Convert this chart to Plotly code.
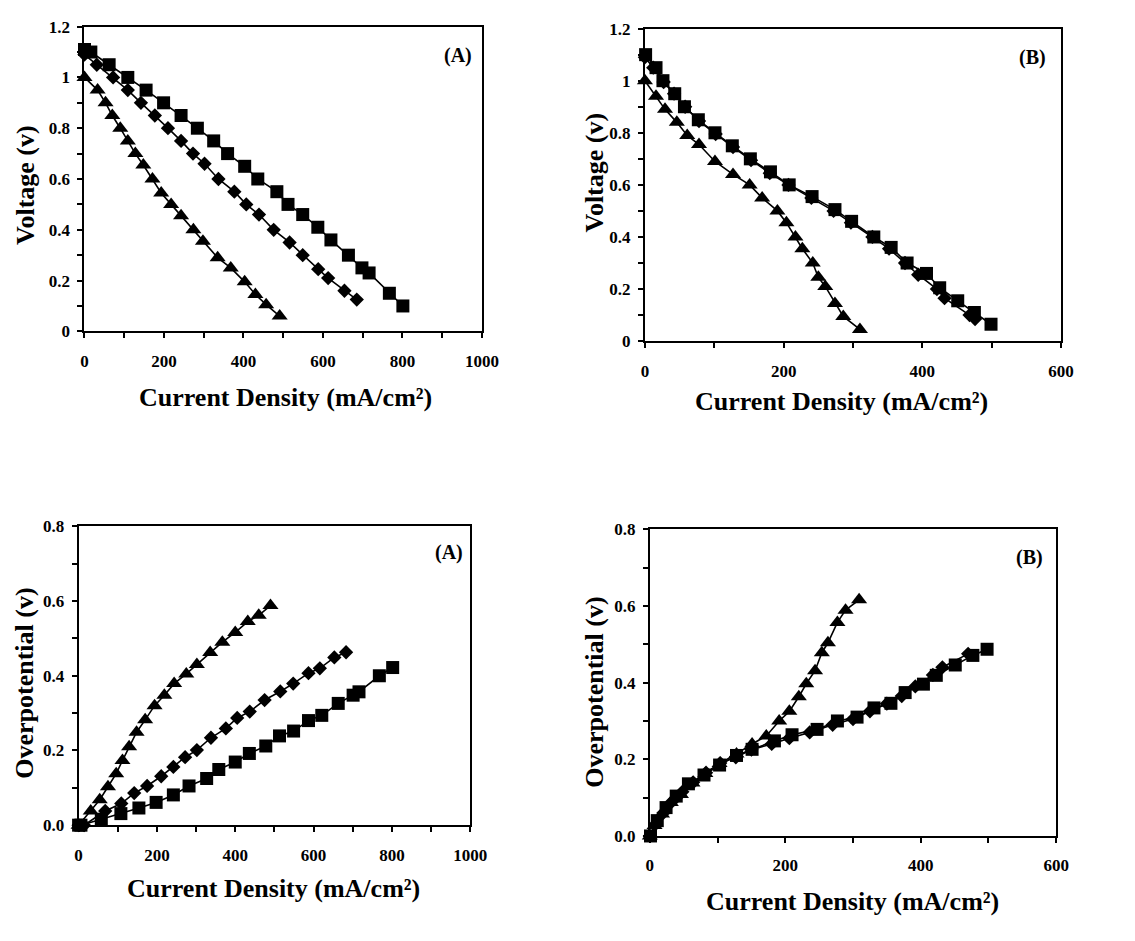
import plotly.graph_objects as go

W, H = 1135, 941

# ---------- Panel 1: Voltage (A) ----------
vA_sq_x = [0, 16, 62, 109, 155, 199, 243, 284, 325, 360, 403, 436, 484, 512, 549, 587, 620, 664, 698, 716, 767, 801]
vA_sq_y = [1.11, 1.10, 1.05, 1.00, 0.95, 0.90, 0.85, 0.80, 0.75, 0.70, 0.65, 0.60, 0.55, 0.50, 0.46, 0.41, 0.36, 0.30, 0.25, 0.23, 0.15, 0.10]
vA_di_x = [0, 31, 72, 109, 142, 177, 210, 243, 273, 302, 337, 377, 407, 439, 476, 516, 549, 588, 613, 654, 685]
vA_di_y = [1.09, 1.05, 1.00, 0.95, 0.90, 0.85, 0.80, 0.75, 0.70, 0.66, 0.60, 0.55, 0.50, 0.46, 0.40, 0.35, 0.30, 0.245, 0.21, 0.16, 0.125]
vA_tr_x = [0, 33, 53, 70, 90, 109, 128, 148, 171, 193, 218, 243, 274, 298, 335, 368, 403, 430, 457, 491]
vA_tr_y = [1.00, 0.95, 0.90, 0.85, 0.80, 0.75, 0.70, 0.655, 0.60, 0.545, 0.50, 0.455, 0.40, 0.355, 0.29, 0.25, 0.195, 0.145, 0.105, 0.06]

# ---------- Panel 2: Voltage (B) ----------
vB_sq_x = [1, 16, 26, 43, 57, 77, 101, 126, 152, 181, 208, 241, 274, 298, 330, 355, 378, 406, 425, 451, 475, 499]
vB_sq_y = [1.10, 1.05, 1.00, 0.95, 0.90, 0.85, 0.80, 0.75, 0.70, 0.65, 0.60, 0.555, 0.505, 0.46, 0.40, 0.36, 0.30, 0.26, 0.205, 0.155, 0.11, 0.065]
vB_di_x = [0, 12, 27, 42, 58, 78, 102, 127, 153, 180, 207, 240, 272, 297, 328, 352, 375, 394, 421, 432, 468, 476]
vB_di_y = [1.09, 1.05, 0.995, 0.95, 0.90, 0.845, 0.795, 0.745, 0.695, 0.645, 0.60, 0.55, 0.50, 0.455, 0.40, 0.355, 0.30, 0.255, 0.20, 0.165, 0.10, 0.085]
vB_tr_x = [0, 16, 29, 46, 61, 78, 101, 127, 151, 169, 191, 204, 217, 227, 242, 250, 260, 274, 286, 310]
vB_tr_y = [1.00, 0.94, 0.89, 0.84, 0.79, 0.755, 0.69, 0.64, 0.60, 0.55, 0.50, 0.455, 0.40, 0.355, 0.30, 0.245, 0.21, 0.145, 0.095, 0.045]

# ---------- Panel 3: Overpotential (A) ----------
oA_sq_x = [0, 6, 58, 108, 154, 198, 242, 282, 327, 358, 400, 436, 478, 513, 549, 587, 621, 663, 701, 716, 768, 802]
oA_sq_y = [0.0, 0.0, 0.016, 0.031, 0.046, 0.061, 0.081, 0.105, 0.125, 0.149, 0.169, 0.192, 0.212, 0.239, 0.252, 0.280, 0.294, 0.326, 0.348, 0.357, 0.400, 0.422]
oA_di_x = [0, 14, 68, 109, 142, 175, 211, 242, 272, 302, 338, 376, 405, 437, 475, 515, 548, 587, 616, 653, 683]
oA_di_y = [0.0, 0.0, 0.038, 0.058, 0.086, 0.105, 0.131, 0.156, 0.182, 0.201, 0.234, 0.259, 0.287, 0.304, 0.335, 0.358, 0.379, 0.407, 0.420, 0.449, 0.463]
oA_tr_x = [0, 31, 54, 75, 96, 112, 129, 148, 170, 194, 219, 244, 275, 302, 336, 367, 400, 432, 460, 490]
oA_tr_y = [0.0, 0.038, 0.068, 0.103, 0.138, 0.173, 0.210, 0.249, 0.282, 0.320, 0.348, 0.379, 0.405, 0.430, 0.462, 0.490, 0.516, 0.545, 0.562, 0.588]

# ---------- Panel 4: Overpotential (B) ----------
oB_sq_x = [1, 11, 24, 39, 57, 80, 103, 128, 151, 184, 210, 247, 277, 306, 331, 356, 377, 404, 423, 451, 477, 498]
oB_sq_y = [0.0, 0.040, 0.074, 0.104, 0.136, 0.159, 0.185, 0.210, 0.226, 0.248, 0.264, 0.278, 0.300, 0.310, 0.334, 0.346, 0.374, 0.396, 0.419, 0.446, 0.471, 0.487]
oB_di_x = [0, 8, 20, 33, 48, 64, 83, 104, 127, 150, 180, 206, 236, 270, 300, 325, 350, 372, 392, 418, 432, 470]
oB_di_y = [0.0, 0.030, 0.060, 0.090, 0.115, 0.140, 0.165, 0.190, 0.205, 0.225, 0.240, 0.255, 0.270, 0.290, 0.305, 0.325, 0.345, 0.365, 0.390, 0.420, 0.440, 0.475]
oB_tr_x = [0, 7, 18, 31, 46, 63, 82, 103, 128, 151, 172, 191, 206, 220, 231, 244, 254, 263, 277, 289, 309]
oB_tr_y = [0.0, 0.027, 0.057, 0.087, 0.108, 0.138, 0.163, 0.189, 0.214, 0.240, 0.261, 0.300, 0.325, 0.363, 0.397, 0.431, 0.478, 0.504, 0.557, 0.589, 0.616]

volt_tickvals = [0, 0.2, 0.4, 0.6, 0.8, 1.0, 1.2]
volt_ticktext = ["0", "0.2", "0.4", "0.6", "0.8", "1", "1.2"]
over_tickvals = [0.0, 0.2, 0.4, 0.6, 0.8]
over_ticktext = ["0.0", "0.2", "0.4", "0.6", "0.8"]
xA_tickvals = [0, 200, 400, 600, 800, 1000]
xB_tickvals = [0, 200, 400, 600]

x_title = "Current Density (mA/cm²)"
FONT = "Liberation Serif, Times New Roman, serif"

# pixel boxes: (left, right, top, bottom)
boxes = {
    1: (82, 487, 18, 329),
    2: (653, 1077, 20, 339),
    3: (76, 475, 528, 833),
    4: (658, 1072, 531, 844),
}

fig = go.Figure()

def add_series(idx, x, y, symbol, size):
    xa = "x" if idx == 1 else f"x{idx}"
    ya = "y" if idx == 1 else f"y{idx}"
    fig.add_trace(go.Scatter(
        x=x, y=y, mode="lines+markers", xaxis=xa, yaxis=ya,
        line=dict(color="black", width=1.6),
        marker=dict(symbol=symbol, size=size, color="black", line=dict(width=0)),
        cliponaxis=False, showlegend=False, hoverinfo="skip"))

panels = {
    1: [(vA_sq_x, vA_sq_y), (vA_di_x, vA_di_y), (vA_tr_x, vA_tr_y)],
    2: [(vB_sq_x, vB_sq_y), (vB_di_x, vB_di_y), (vB_tr_x, vB_tr_y)],
    3: [(oA_sq_x, oA_sq_y), (oA_di_x, oA_di_y), (oA_tr_x, oA_tr_y)],
    4: [(oB_sq_x, oB_sq_y), (oB_di_x, oB_di_y), (oB_tr_x, oB_tr_y)],
}
for idx, series in panels.items():
    (sx, sy), (dx, dy), (tx, ty) = series
    add_series(idx, sx, sy, "square", 13)
    add_series(idx, dx, dy, "diamond", 11)
    add_series(idx, tx, ty, "triangle-up", 14)

tickfont = dict(family=FONT, size=17, color="black", weight="bold")
layout = dict(width=W, height=H, margin=dict(l=0, r=0, t=0, b=0),
              paper_bgcolor="white", plot_bgcolor="white", showlegend=False)

for idx, (l, r, t, b) in boxes.items():
    xk = "xaxis" if idx == 1 else f"xaxis{idx}"
    yk = "yaxis" if idx == 1 else f"yaxis{idx}"
    ya = "y" if idx == 1 else f"y{idx}"
    xa = "x" if idx == 1 else f"x{idx}"
    xmax = 1000 if idx in (1, 3) else 600
    xticks = xA_tickvals if idx in (1, 3) else xB_tickvals
    if idx in (1, 2):
        yr, tv, tt, ydt = [0, 1.2], volt_tickvals, volt_ticktext, 0.1
    else:
        yr, tv, tt, ydt = [0, 0.8], over_tickvals, over_ticktext, 0.1
    layout[xk] = dict(domain=[l / W, r / W], range=[0, xmax], anchor=ya,
                      tickvals=xticks, ticktext=[str(v) for v in xticks],
                      ticks="outside", ticklen=5, tickwidth=1.5, tickcolor="black",
                      minor=dict(dtick=100, tick0=0, ticks="outside", ticklen=5, tickwidth=1.5, tickcolor="black", showgrid=False),
                      showline=True, linecolor="black", linewidth=2, mirror=True,
                      showgrid=False, zeroline=False, tickfont=tickfont, ticklabelstandoff=8)
    layout[yk] = dict(domain=[1 - b / H, 1 - t / H], range=yr, anchor=xa,
                      tickvals=tv, ticktext=tt,
                      ticks="outside", ticklen=5, tickwidth=1.5, tickcolor="black",
                      minor=dict(dtick=ydt, tick0=0, ticks="outside", ticklen=5, tickwidth=1.5, tickcolor="black", showgrid=False),
                      showline=True, linecolor="black", linewidth=2, mirror=True,
                      showgrid=False, zeroline=False, tickfont=tickfont, ticklabelstandoff=4)

fig.update_layout(**layout)

titlefont = dict(family=FONT, size=26, color="black", weight="bold")
labelfont = dict(family=FONT, size=20, color="black", weight="bold")

def ann(text, px, py, font, angle=0):
    fig.add_annotation(text=text, x=px / W, y=1 - py / H, xref="paper", yref="paper",
                       showarrow=False, font=font, textangle=angle,
                       xanchor="center", yanchor="middle")

# x titles
ann(x_title, 287, 396, titlefont)
ann(x_title, 853, 401, titlefont)
ann(x_title, 275, 898, titlefont)
ann(x_title, 864, 911, titlefont)
# y titles
ann("Voltage (v)", 22, 180, titlefont, -90)
ann("Voltage (v)", 602, 167, titlefont, -90)
ann("Overpotential (v)", 20, 688, titlefont, -90)
ann("Overpotential (v)", 602, 697, titlefont, -90)
# panel labels
ann("(A)", 463, 47, labelfont)
ann("(B)", 1048, 50, labelfont)
ann("(A)", 453, 555, labelfont)
ann("(B)", 1045, 560, labelfont)

fig.write_html("out.html")
